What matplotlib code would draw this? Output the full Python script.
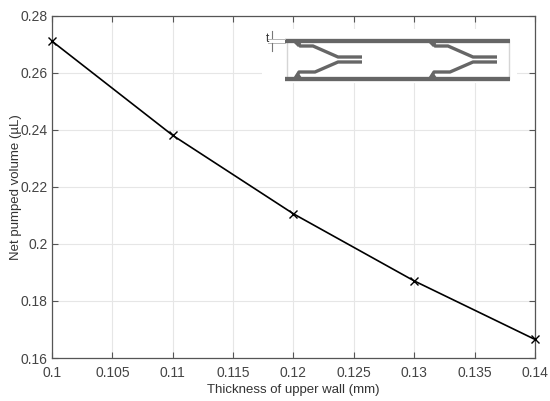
import matplotlib
matplotlib.use("Agg")
from matplotlib import pyplot as plt

plt.rcParams['font.family'] = ['Liberation Sans', 'DejaVu Sans']

thickness = [0.10, 0.11, 0.12, 0.13, 0.14]
volume = [0.271, 0.238, 0.2105, 0.187, 0.1665]

xticks = [0.1, 0.105, 0.11, 0.115, 0.12, 0.125, 0.13, 0.135, 0.14]
xlabels = ['0.1', '0.105', '0.11', '0.115', '0.12', '0.125', '0.13', '0.135', '0.14']
yticks = [0.16, 0.18, 0.2, 0.22, 0.24, 0.26, 0.28]
ylabels = ['0.16', '0.18', '0.2', '0.22', '0.24', '0.26', '0.28']

# wall sketch, in reference pixels
upper_arm_x = [298, 300, 313, 338, 362]
upper_arm_y = [42, 46, 46, 57, 57]
lower_arm_x = [296, 299, 315, 338, 362]
lower_arm_y = [77, 72, 72, 62, 62]
upper_foot_x = [293, 302, 298]
upper_foot_y = [42, 42, 47]
lower_foot_x = [293, 302, 298]
lower_foot_y = [78, 78, 72]
arm_offset = 135

W, H = 550, 401
f = plt.figure(figsize=(W / 100, H / 100), dpi=100)
ax = f.add_axes([52 / W, 1 - 358 / H, 483 / W, 342.5 / H])
ax.grid(True, color='#e6e6e6', linewidth=0.8)
ax.set_axisbelow(True)
ax.plot(thickness, volume, color='black', marker='x', markersize=6, linewidth=1.2,
        markeredgewidth=1.0, clip_on=False, zorder=5)
ax.set_xlim(0.1, 0.14)
ax.set_ylim(0.16, 0.28)
ax.set_xticks(xticks)
ax.set_xticklabels(xlabels)
ax.set_yticks(yticks)
ax.set_yticklabels(ylabels)
ax.tick_params(direction='in', length=4, width=0.8, color='#555555', labelcolor='#444444',
               labelsize=10, top=True, right=True)
ax.tick_params(axis='x', pad=6)
ax.tick_params(axis='y', pad=3)
for s in ax.spines.values():
    s.set_color('#555555')
    s.set_linewidth(0.9)
ax.set_xlabel('Thickness of upper wall (mm)', fontsize=9.5, color='#333333', labelpad=3)
ax.set_ylabel('Net pumped volume (\u00b5L)', fontsize=9.5, color='#333333', labelpad=-1)

# inset drawn over the grid, axes data = reference pixels
sk = f.add_axes([0, 0, 1, 1], facecolor='none')
sk.set_xlim(0, W)
sk.set_ylim(H, 0)
sk.axis('off')
grey = '#666666'
sk.fill_between([262, 517], 29, 83, color='white', linewidth=0)
sk.plot([286.5, 286.5], [40, 79], color='#d5d5d5', linewidth=1)
sk.plot([509, 509], [40, 79], color='#d5d5d5', linewidth=1)
sk.plot([285, 510], [40.5, 40.5], color=grey, linewidth=3.1, solid_capstyle='butt')
sk.plot([285, 510], [79, 79], color=grey, linewidth=3.1, solid_capstyle='butt')
for off in [0, arm_offset]:
    sk.plot([x + off for x in upper_arm_x], upper_arm_y, color=grey, linewidth=2.4,
            solid_joinstyle='round', solid_capstyle='butt')
    sk.plot([x + off for x in lower_arm_x], lower_arm_y, color=grey, linewidth=2.4,
            solid_joinstyle='round', solid_capstyle='butt')
    sk.fill([x + off for x in upper_foot_x], upper_foot_y, color=grey, linewidth=0)
    sk.fill([x + off for x in lower_foot_x], lower_foot_y, color=grey, linewidth=0)
sk.plot([268, 285], [38.5, 38.5], color='#b5b5b5', linewidth=0.7)
sk.plot([268, 285], [42.5, 42.5], color='#b5b5b5', linewidth=0.7)
sk.plot([272, 272], [31, 38], color='#777777', linewidth=0.8)
sk.plot([272, 272], [43, 51], color='#777777', linewidth=0.8)
sk.text(267, 39.5, 't', fontsize=8.5, color='#333333', ha='center', va='center')

f.savefig("out.png", dpi=100)
